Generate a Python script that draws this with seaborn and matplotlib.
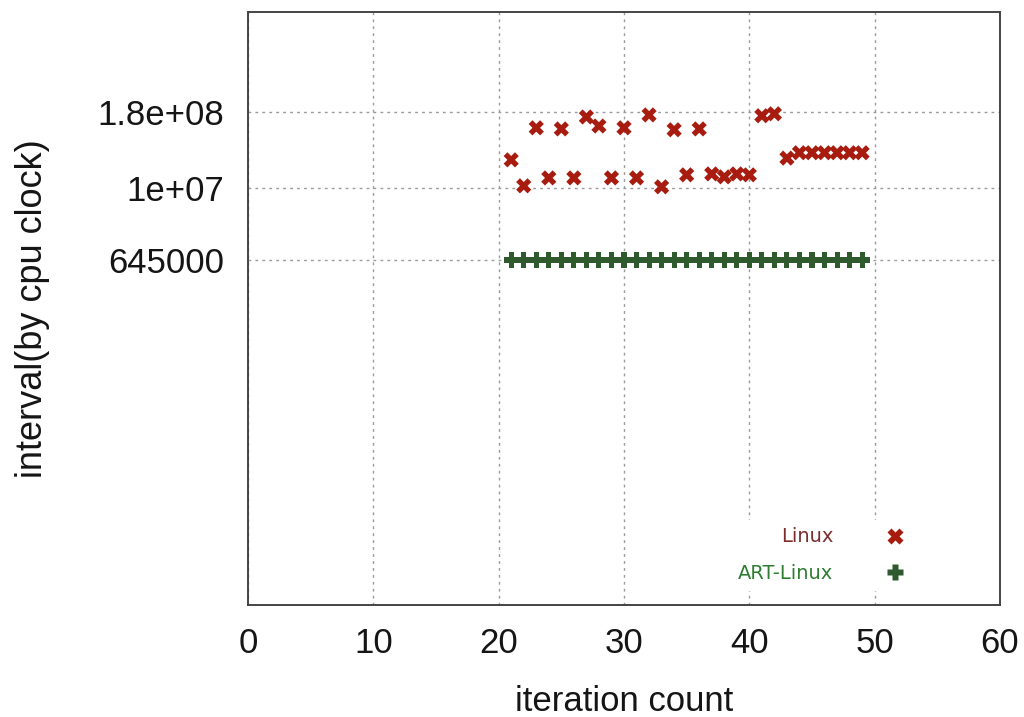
import pandas as pd
import matplotlib
matplotlib.use("Agg")
import matplotlib.pyplot as plt
import seaborn as sns

# Data
iterations = list(range(21, 50))
linux = [2.9e7, 1.08e7, 9.8e7, 1.46e7, 9.4e7, 1.46e7, 1.48e8, 1.05e8, 1.46e7, 9.8e7,
         1.46e7, 1.6e8, 1.04e7, 9.1e7, 1.64e7, 9.4e7, 1.7e7, 1.52e7, 1.7e7, 1.64e7,
         1.55e8, 1.67e8, 3.1e7, 3.8e7, 3.8e7, 3.8e7, 3.8e7, 3.8e7, 3.8e7]
art_linux = [645000] * len(iterations)
ytick_vals = [645000, 1e7, 1.8e8]
ytick_labels = ["645000", "1e+07", "1.8e+08"]
xtick_vals = [0, 10, 20, 30, 40, 50, 60]

df = pd.DataFrame({
    "iteration": iterations * 2,
    "interval": linux + art_linux,
    "series": ["Linux"] * len(iterations) + ["ART-Linux"] * len(iterations),
})

sns.set_style("white")
plt.rcParams["font.family"] = ["Liberation Sans", "DejaVu Sans"]

fig = plt.figure(figsize=(10.24, 7.17), dpi=100)
ax = fig.add_axes([248 / 1024, 1 - 605 / 717, 752 / 1024, 593 / 717])

palette = {"Linux": "#a81c10", "ART-Linux": "#2e5a2e"}
markers = {"Linux": "X", "ART-Linux": "P"}
sns.scatterplot(data=df, x="iteration", y="interval", hue="series", style="series",
                palette=palette, markers=markers, s=120, edgecolor="none", ax=ax)

ax.set_yscale("log")
ax.set_xlim(0, 60)
ax.set_ylim(1.3, 8e9)
ax.set_xticks(xtick_vals)
ax.set_yticks(ytick_vals)
ax.set_yticklabels(ytick_labels)
ax.minorticks_off()
ax.tick_params(axis="both", labelsize=25, length=0, colors="#151515")
ax.tick_params(axis="y", pad=17)
ax.tick_params(axis="x", pad=16)
ax.grid(True, color="#9a9a9a", linestyle=(0, (2, 3)), linewidth=1)
for sp in ax.spines.values():
    sp.set_color("#444444")
    sp.set_linewidth(1.4)

ax.set_xlabel("iteration count", fontsize=25, color="#151515", labelpad=18)
ax.set_ylabel("interval(by cpu clock)", fontsize=26, color="#151515", labelpad=34)

handles, labels = ax.get_legend_handles_labels()
leg = ax.legend(handles, labels, loc="center right", bbox_to_anchor=(0.884, 0.084),
                bbox_transform=ax.transAxes, borderaxespad=0, markerfirst=False,
                frameon=True, framealpha=1, edgecolor="none",
                handlelength=1, handletextpad=2.7, labelspacing=0.9,
                prop={"family": "DejaVu Sans", "size": 14})
for txt, col in zip(leg.get_texts(), ["#7b2c2c", "#2e7d32"]):
    txt.set_color(col)

fig.savefig("out.png", dpi=100)
